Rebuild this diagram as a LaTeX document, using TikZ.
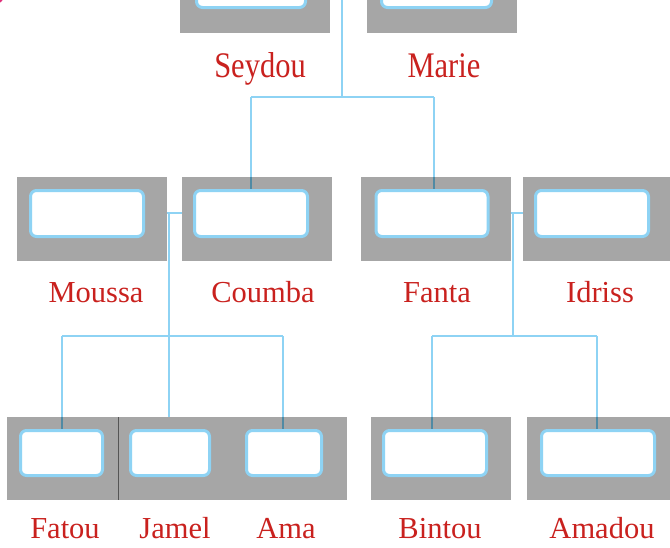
\documentclass[tikz,border=0pt]{standalone}
\usepackage{fontspec}
\usepackage{graphicx}
\newfontfamily\lblfont{Liberation Serif}
\definecolor{boxgrey}{HTML}{A6A6A6}
\definecolor{linkblue}{HTML}{8ED3F4}
\definecolor{linkdark}{HTML}{4F8AA4}
\definecolor{namered}{HTML}{C9211E}
\definecolor{dotpink}{HTML}{E0307A}
\definecolor{sepgrey}{HTML}{555555}
\tikzset{
  greybox/.style={fill=boxgrey, draw=none, inner sep=0pt, minimum height=84pt},
  innerbox/.style={fill=white, draw=linkblue, line width=3pt, rounded corners=6pt, inner sep=0pt},
  link/.style={draw=linkblue, line width=2pt},
  linkin/.style={draw=linkdark, line width=2pt},
  namelbl/.style={text=namered, font=\lblfont\fontsize{30.5}{31}\selectfont, anchor=base, inner sep=0pt},
}
\begin{document}
\begin{tikzpicture}[x=1pt, y=-1pt]
\useasboundingbox (0,0) rectangle (670,547);
\clip (0,0) rectangle (670,547);
\fill[dotpink] (-12,-12) circle (19);
% grey boxes
\node[greybox, minimum width=150pt] (seydouG) at (255,-9) {};
\node[greybox, minimum width=150pt] (marieG) at (442,-9) {};
\node[greybox, minimum width=150pt] (moussaG) at (92,219) {};
\node[greybox, minimum width=150pt] (coumbaG) at (257,219) {};
\node[greybox, minimum width=150pt] (fantaG) at (436,219) {};
\node[greybox, minimum width=150pt] (idrissG) at (598,219) {};
\node[greybox, minimum width=340pt, minimum height=83pt] (kidsG) at (177,458.5) {};
\node[greybox, minimum width=140pt, minimum height=83pt] (bintouG) at (441,458.5) {};
\node[greybox, minimum width=150pt, minimum height=83pt] (amadouG) at (602,458.5) {};
\coordinate (sepT) at (118,417);
\coordinate (sepB) at (118,500);
\draw[sepgrey, line width=0.7pt] (sepT) -- (sepB);
% inner boxes
\node[innerbox, minimum width=109pt, minimum height=46pt] (seydouI) at (251,-15.5) {};
\node[innerbox, minimum width=110pt, minimum height=46pt] (marieI) at (436.5,-15.5) {};
\node[innerbox, minimum width=113pt, minimum height=46pt] (moussaI) at (87,213.5) {};
\node[innerbox, minimum width=113pt, minimum height=46pt] (coumbaI) at (251,213.5) {};
\node[innerbox, minimum width=112pt, minimum height=46pt] (fantaI) at (432,213.5) {};
\node[innerbox, minimum width=113pt, minimum height=46pt] (idrissI) at (592,213.5) {};
\node[innerbox, minimum width=82pt, minimum height=45pt] (fatouI) at (61.5,453) {};
\node[innerbox, minimum width=79pt, minimum height=45pt] (jamelI) at (170,453) {};
\node[innerbox, minimum width=75pt, minimum height=45pt] (amaI) at (284,453) {};
\node[innerbox, minimum width=103pt, minimum height=45pt] (bintouI) at (435,453) {};
\node[innerbox, minimum width=113pt, minimum height=45pt] (amadouI) at (598,453) {};
% connectors: parents
\coordinate (pTop) at (342,-2);
\coordinate (pMid) at (342,97);
\coordinate (pL) at (251,97);
\coordinate (pR) at (434,97);
\draw[link] (pTop) -- (pMid);
\draw[link] (pL) -- (pR);
\draw[link] (pL) -- (pL |- coumbaG.north);
\draw[linkin] (pL |- coumbaG.north) -- (pL |- coumbaI.north);
\draw[link] (pR) -- (pR |- fantaG.north);
\draw[linkin] (pR |- fantaG.north) -- (pR |- fantaI.north);
% Moussa + Coumba
\coordinate (mcA) at (167,213);
\coordinate (mcB) at (182,213);
\coordinate (mcV) at (169,213);
\coordinate (mcJ) at (169,336);
\coordinate (mcL) at (62,336);
\coordinate (mcR) at (283,336);
\draw[link] (mcA) -- (mcB);
\draw[link] (mcV) -- (mcJ);
\draw[link] (mcL) -- (mcR);
\draw[link] (mcL) -- (mcL |- kidsG.north);
\draw[linkin] (mcL |- kidsG.north) -- (mcL |- fatouI.north);
\draw[link] (mcJ) -- (mcJ |- kidsG.north);
\draw[link] (mcR) -- (mcR |- kidsG.north);
\draw[linkin] (mcR |- kidsG.north) -- (mcR |- amaI.north);
% Fanta + Idriss
\coordinate (fiA) at (511,213);
\coordinate (fiB) at (523,213);
\coordinate (fiV) at (513,213);
\coordinate (fiJ) at (513,336);
\coordinate (fiL) at (432,336);
\coordinate (fiR) at (597,336);
\draw[link] (fiA) -- (fiB);
\draw[link] (fiV) -- (fiJ);
\draw[link] (fiL) -- (fiR);
\draw[link] (fiL) -- (fiL |- bintouG.north);
\draw[linkin] (fiL |- bintouG.north) -- (fiL |- bintouI.north);
\draw[link] (fiR) -- (fiR |- amadouG.north);
\draw[linkin] (fiR |- amadouG.north) -- (fiR |- amadouI.north);
% labels
\node[namelbl] (seydouL) at (260,77) {\scalebox{1}[1.18]{Seydou}};
\node[namelbl] (marieL) at (444,77) {\scalebox{1}[1.18]{Marie}};
\node[namelbl] (moussaL) at (96,302) {Moussa};
\node[namelbl] (coumbaL) at (263,302) {Coumba};
\node[namelbl] (fantaL) at (437,302) {Fanta};
\node[namelbl] (idrissL) at (600,302) {Idriss};
\node[namelbl] (fatouL) at (65,538) {Fatou};
\node[namelbl] (jamelL) at (175,538) {Jamel};
\node[namelbl] (amaL) at (286,538) {Ama};
\node[namelbl] (bintouL) at (440,538) {Bintou};
\node[namelbl] (amadouL) at (602,538) {Amadou};
\end{tikzpicture}
\end{document}
